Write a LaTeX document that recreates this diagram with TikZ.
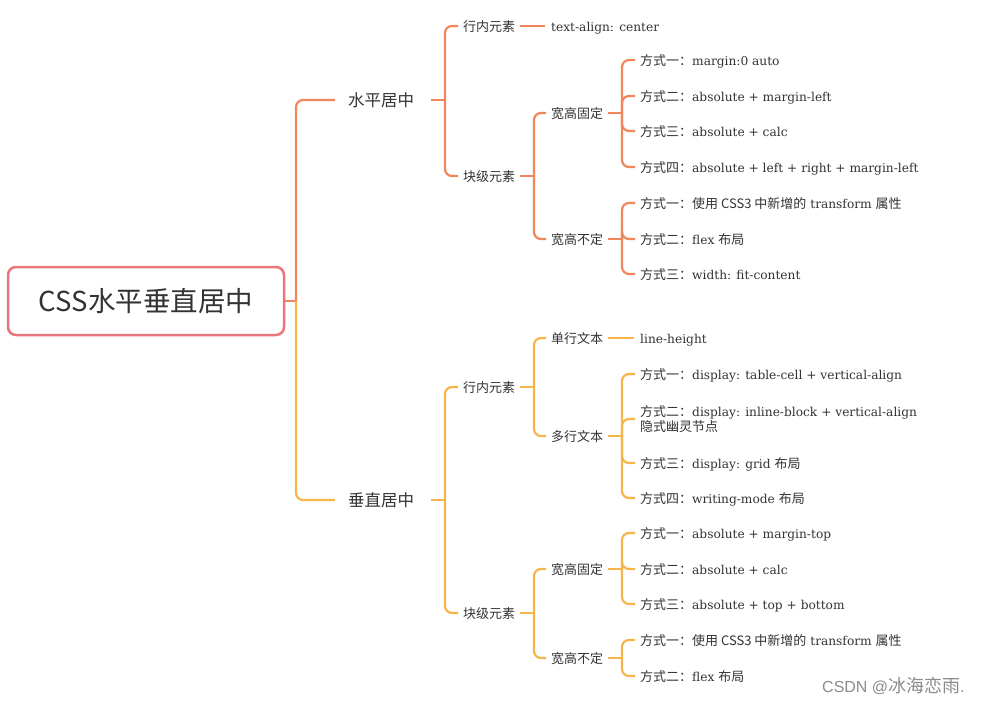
\documentclass[tikz,border=0pt]{standalone}
\usepackage{fontspec}
\setmainfont{DejaVu Serif}
\newfontfamily\cj{Noto Sans CJK SC}
\newfontfamily\wmfont{Liberation Sans}
\newcommand\zh[1]{{\cj\fontsize{13}{16}\selectfont #1}}
\definecolor{rootc}{RGB}{232,118,122}
\definecolor{topc}{RGB}{241,134,92}
\definecolor{botc}{RGB}{247,180,72}
\definecolor{txt}{RGB}{51,51,51}
\begin{document}
\begin{tikzpicture}[x=1pt,y=-1pt,
  rootbox/.style={draw=rootc, line width=2.5pt, rounded corners=8pt, fill=white,
    minimum width=276pt, minimum height=68pt, inner sep=0pt,
    font=\cj\fontsize{27.5}{30}\selectfont, text=txt},
  lvone/.style={anchor=west, inner sep=0pt, text height=14pt, text depth=1.4pt,
    font=\cj\fontsize{16.5}{20}\selectfont, text=txt},
  lvtwo/.style={anchor=west, inner sep=0pt, text height=11.5pt, text depth=1.5pt,
    font=\cj\fontsize{13}{16}\selectfont, text=txt},
  leaf/.style={anchor=west, inner sep=0pt, text height=11.5pt, text depth=1.5pt,
    font=\fontsize{12.2}{16}\selectfont, text=txt},
  oc/.style={draw=topc, line width=2.2pt, rounded corners=7pt},
  yc/.style={draw=botc, line width=2.2pt, rounded corners=7pt}]
\useasboundingbox (0,0) rectangle (988,704);
\fill[white] (0,0) rectangle (988,704);

\coordinate (b0) at (296,0);
\coordinate (b1) at (445,0);
\coordinate (b2) at (534,0);
\coordinate (b3) at (622,0);

\node[rootbox] (root) at (146,301) {CSS水平垂直居中};

\node[lvone] (n1) at (348,100) {水平居中};
\node[lvone] (n2) at (348,500) {垂直居中};

% top half
\node[lvtwo] (a1) at (463,26) {行内元素};
\node[lvtwo] (a2) at (463,176) {块级元素};
\node[leaf] (a1l) at (551,26) {text-align: center};
\node[lvtwo] (a2a) at (551,113) {宽高固定};
\node[lvtwo] (a2b) at (551,239) {宽高不定};
\node[leaf] (p1) at (640,60) {\zh{方式一：}margin:0 auto};
\node[leaf] (p2) at (640,96) {\zh{方式二：}absolute + margin-left};
\node[leaf] (p3) at (640,131) {\zh{方式三：}absolute + calc};
\node[leaf] (p4) at (640,167) {\zh{方式四：}absolute + left + right + margin-left};
\node[leaf] (q1) at (640,203) {\zh{方式一：使用 CSS3 中新增的} transform \zh{属性}};
\node[leaf] (q2) at (640,239) {\zh{方式二：}flex \zh{布局}};
\node[leaf] (q3) at (640,274) {\zh{方式三：}width: fit-content};

% bottom half
\node[lvtwo] (c1) at (463,387) {行内元素};
\node[lvtwo] (c2) at (463,613) {块级元素};
\node[lvtwo] (c1a) at (551,338) {单行文本};
\node[lvtwo] (c1b) at (551,436) {多行文本};
\node[leaf] (lh) at (640,338) {line-height};
\node[leaf] (r1) at (640,374) {\zh{方式一：}display: table-cell + vertical-align};
\node[leaf, align=left, text height=, text depth=] (r2) at (640,419) {\zh{方式二：}display: inline-block + vertical-align\\[-1pt]\zh{隐式幽灵节点}};
\node[leaf] (r3) at (640,463) {\zh{方式三：}display: grid \zh{布局}};
\node[leaf] (r4) at (640,498) {\zh{方式四：}writing-mode \zh{布局}};
\node[lvtwo] (c2a) at (551,569) {宽高固定};
\node[lvtwo] (c2b) at (551,658) {宽高不定};
\node[leaf] (s1) at (640,533) {\zh{方式一：}absolute + margin-top};
\node[leaf] (s2) at (640,569) {\zh{方式二：}absolute + calc};
\node[leaf] (s3) at (640,604) {\zh{方式三：}absolute + top + bottom};
\node[leaf] (t1) at (640,640) {\zh{方式一：使用 CSS3 中新增的} transform \zh{属性}};
\node[leaf] (t2) at (640,676) {\zh{方式二：}flex \zh{布局}};

% root connectors
\draw[oc] (root.east) -- (root.east -| b0);
\draw[oc] (root.east -| b0) |- ([xshift=-13pt]n1.west);
\draw[yc] (root.east -| b0) |- ([xshift=-13pt]n2.west);

% top connectors
\draw[oc] ([xshift=17pt]n1.east) -- (n1.east -| b1);
\foreach \c in {a1,a2} \draw[oc] (n1.east -| b1) |- ([xshift=-5pt]\c.west);
\draw[oc] ([xshift=5pt]a1.east) -- ([xshift=-6pt]a1l.west);
\draw[oc] ([xshift=5pt]a2.east) -- (a2.east -| b2);
\foreach \c in {a2a,a2b} \draw[oc] (a2.east -| b2) |- ([xshift=-5pt]\c.west);
\draw[oc] ([xshift=5pt]a2a.east) -- (a2a.east -| b3);
\foreach \c in {p1,p2,p3,p4} \draw[oc] (a2a.east -| b3) |- ([xshift=-5pt]\c.west);
\draw[oc] ([xshift=5pt]a2b.east) -- (a2b.east -| b3);
\foreach \c in {q1,q2,q3} \draw[oc] (a2b.east -| b3) |- ([xshift=-5pt]\c.west);

% bottom connectors
\draw[yc] ([xshift=17pt]n2.east) -- (n2.east -| b1);
\foreach \c in {c1,c2} \draw[yc] (n2.east -| b1) |- ([xshift=-5pt]\c.west);
\draw[yc] ([xshift=5pt]c1.east) -- (c1.east -| b2);
\foreach \c in {c1a,c1b} \draw[yc] (c1.east -| b2) |- ([xshift=-5pt]\c.west);
\draw[yc] ([xshift=5pt]c1a.east) -- ([xshift=-6pt]lh.west);
\draw[yc] ([xshift=5pt]c1b.east) -- (c1b.east -| b3);
\foreach \c in {r1,r2,r3,r4} \draw[yc] (c1b.east -| b3) |- ([xshift=-5pt]\c.west);
\draw[yc] ([xshift=5pt]c2.east) -- (c2.east -| b2);
\foreach \c in {c2a,c2b} \draw[yc] (c2.east -| b2) |- ([xshift=-5pt]\c.west);
\draw[yc] ([xshift=5pt]c2a.east) -- (c2a.east -| b3);
\foreach \c in {s1,s2,s3} \draw[yc] (c2a.east -| b3) |- ([xshift=-5pt]\c.west);
\draw[yc] ([xshift=5pt]c2b.east) -- (c2b.east -| b3);
\foreach \c in {t1,t2} \draw[yc] (c2b.east -| b3) |- ([xshift=-5pt]\c.west);

% watermark
\node[anchor=west, inner sep=0pt, text=black!45] (wm) at (822,686) {\wmfont\fontsize{16}{18}\selectfont CSDN @{\cj\fontsize{18}{20}\selectfont 冰海恋雨}.};
\end{tikzpicture}
\end{document}
